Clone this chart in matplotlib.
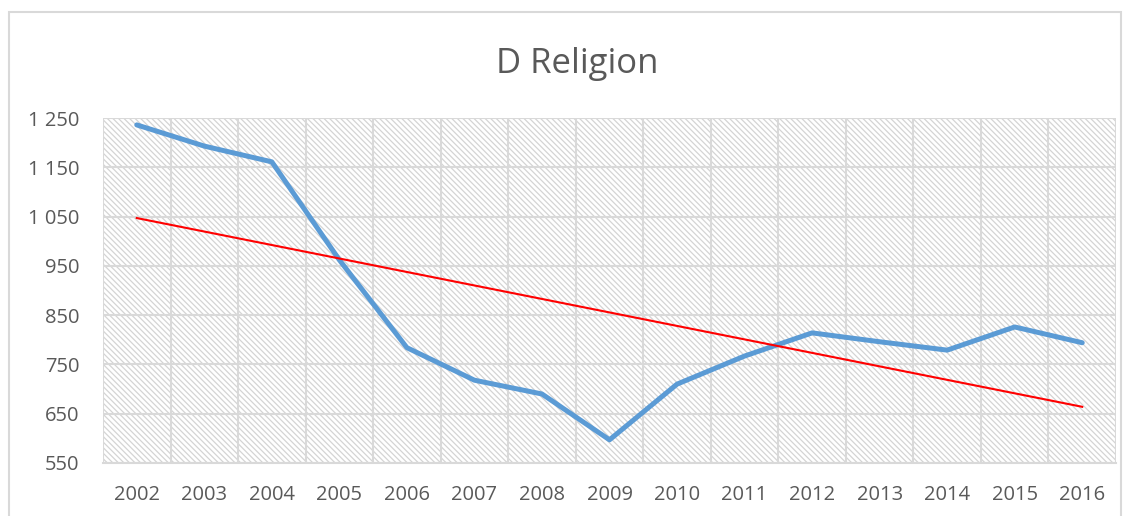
import matplotlib
matplotlib.use("Agg")
import matplotlib.pyplot as plt
from matplotlib.patches import Rectangle
from matplotlib.ticker import FuncFormatter, FixedLocator

# values
years = [2002, 2003, 2004, 2005, 2006, 2007, 2008, 2009,
         2010, 2011, 2012, 2013, 2014, 2015, 2016]
religion = [1236, 1193, 1161, 962, 784, 718, 690, 597,
            710, 767, 814, 796, 779, 826, 794]
trend_years = [2002, 2016]
trend_values = [1047, 664]
y_ticks = [550, 650, 750, 850, 950, 1050, 1150, 1250]

GRAY_TXT = "#595959"
GRID = "#d9d9d9"

plt.rcParams["font.family"] = ["Open Sans", "DejaVu Sans"]
plt.rcParams["hatch.linewidth"] = 0.9

fig = plt.figure(figsize=(11.32, 5.16), dpi=100)
ax = fig.add_axes([103 / 1132, 1 - 463 / 516, 1013 / 1132, 345 / 516])

# outer chart frame
fig.patches.append(Rectangle((9 / 1132, -0.05), 1112 / 1132, 1.05 - 12 / 516,
                             transform=fig.transFigure, fill=False,
                             edgecolor=GRID, lw=1.5))

# hatched plot area
ax.add_patch(Rectangle((0, 0), 1, 1, transform=ax.transAxes, facecolor="white",
                       edgecolor="#d4d4d4", hatch="\\\\\\\\\\\\", lw=0, zorder=0))

ax.plot(years, religion, color="#5b9bd5", lw=3.6, solid_capstyle="round",
        solid_joinstyle="round", zorder=3)
ax.plot(trend_years, trend_values, color="#ff0000", lw=1.5, zorder=4)

ax.set_xlim(years[0] - 0.5, years[-1] + 0.5)
ax.set_ylim(y_ticks[0], y_ticks[-1])
ax.set_xticks(years)
ax.set_xticks([y - 0.5 for y in years] + [years[-1] + 0.5], minor=True)
ax.yaxis.set_major_locator(FixedLocator(y_ticks))
ax.yaxis.set_major_formatter(FuncFormatter(lambda v, _: f"{int(v):,}".replace(",", " ")))

ax.grid(axis="y", which="major", color=GRID, lw=1.5, zorder=1)
ax.grid(axis="x", which="minor", color=GRID, lw=1.5, zorder=1)
ax.set_axisbelow(True)

for s in ["top", "right", "left"]:
    ax.spines[s].set_visible(False)
ax.spines["bottom"].set_color(GRID)
ax.spines["bottom"].set_linewidth(1.5)

ax.tick_params(axis="both", which="both", length=0, labelsize=14.5, colors=GRAY_TXT)
ax.tick_params(axis="x", pad=16)
ax.tick_params(axis="y", pad=17)

fig.text(0.51, 1 - 64 / 516, "D Religion", ha="center", va="center",
         fontsize=25, color=GRAY_TXT)

fig.savefig("out.png", dpi=100)
